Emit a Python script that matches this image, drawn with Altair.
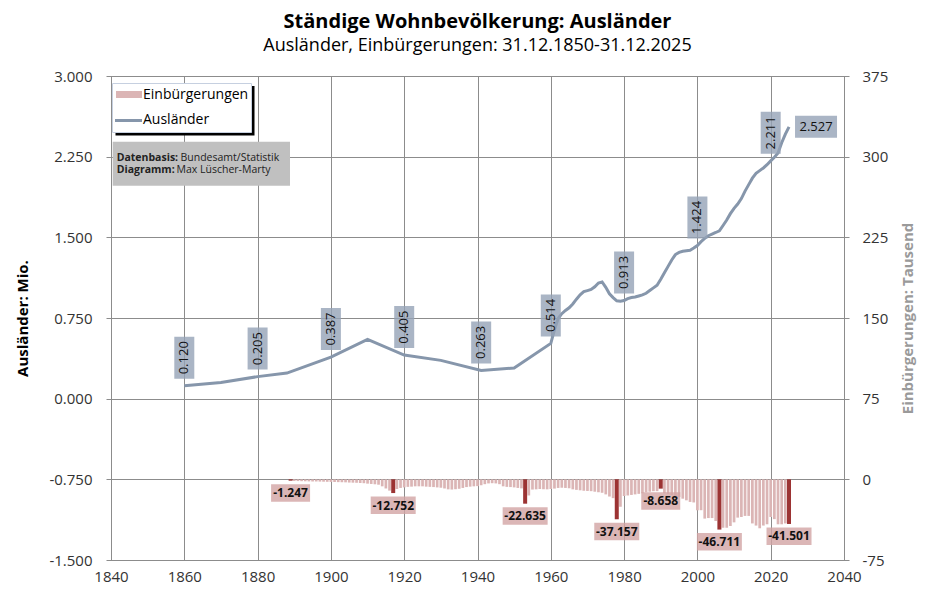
import altair as alt
import pandas as pd

FONT = "Open Sans"

# Ständige ausländische Wohnbevölkerung, Mio.
aus_years = [1860, 1870, 1880, 1888, 1900, 1910, 1920, 1930, 1941, 1950] + list(range(1960, 2026))
aus_values = [
    0.120, 0.150, 0.205, 0.238, 0.387, 0.552, 0.405, 0.356, 0.263, 0.285,
    0.514, 0.640, 0.745, 0.790, 0.820, 0.845, 0.880, 0.925, 0.965, 0.995,
    1.005, 1.015, 1.040, 1.075, 1.085, 1.035, 0.975, 0.940, 0.910, 0.905,
    0.913, 0.930, 0.940, 0.945, 0.955, 0.965, 0.980, 1.005, 1.030, 1.055,
    1.110, 1.170, 1.230, 1.290, 1.340, 1.360, 1.370, 1.375, 1.380, 1.400,
    1.424, 1.460, 1.490, 1.515, 1.530, 1.545, 1.561, 1.610, 1.661, 1.720,
    1.770, 1.810, 1.860, 1.930, 1.990, 2.050, 2.095, 2.120, 2.145, 2.175,
    2.211, 2.245, 2.285, 2.380, 2.460, 2.527,
]

# beschriftete Werte der Ausländer-Linie
mark_years = [1860, 1880, 1900, 1920, 1941, 1960, 1980, 2000, 2020]
mark_values = [0.120, 0.205, 0.387, 0.405, 0.263, 0.514, 0.913, 1.424, 2.211]

# Einbürgerungen, Tausend (negativ dargestellt)
einb_years = list(range(1889, 2026))
einb_values = [
    -1.247,
    -1.5, -1.6, -1.7, -1.8, -1.9, -2.0, -2.0, -2.1, -2.2, -2.3,
    -2.4, -2.5, -2.6, -2.7, -2.8, -3.0, -3.1, -3.2, -3.4, -3.6,
    -4.0, -4.3, -4.6, -5.0, -6.5, -8.5, -10.5, -12.752, -9.0, -8.0,
    -7.5, -7.0, -6.8, -6.5, -6.5, -6.5, -6.8, -7.0, -7.2, -7.5,
    -7.8, -8.5, -9.3, -9.5, -9.2, -8.8, -8.0, -7.2, -6.8, -6.5,
    -6.3, -5.5, -4.5, -3.8, -3.6, -3.8, -4.5, -6.5, -7.0, -7.2,
    -7.5, -8.0, -8.4, -22.635, -15.0, -9.5, -9.3, -9.0, -9.2, -9.3,
    -9.0, -8.6, -8.0, -7.8, -8.0, -8.3, -9.3, -9.8, -10.2, -10.6,
    -10.8, -11.0, -11.5, -12.0, -12.5, -14.0, -16.0, -17.5, -37.157, -25.5,
    -15.5, -15.0, -14.5, -14.0, -13.5, -13.0, -12.0, -11.5, -11.0, -11.0,
    -8.658, -13.0, -13.5, -14.5, -15.5, -16.5, -18.0, -19.5, -21.0, -21.5,
    -28.8, -28.7, -36.5, -36.0, -36.0, -38.7, -46.711, -45.0, -45.0, -43.4,
    -40.0, -35.6, -35.0, -34.0, -34.0, -41.0, -43.0, -45.5, -43.0, -41.8,
    -35.0, -37.0, -41.8, -41.8, -41.0, -41.501,
]
hl_years = [1889, 1917, 1953, 1978, 1990, 2006, 2025]

legend_labels = ["Einbürgerungen", "Ausländer"]
info_bold = ["Datenbasis:", "Diagramm:"]
info_text = ["Bundesamt/Statistik", "Max Lüscher-Marty"]

LINE_COL = "#8696ab"
BAR_COL = "#dbb5b5"
DARK_COL = "#9c3333"
HYPHEN = "replace(datum.label, '\u2212', '-')"

aus = pd.DataFrame({"Jahr": aus_years, "Mio": aus_values})
marks = pd.DataFrame({"Jahr": mark_years, "Mio": mark_values})
last = aus.tail(1)

einb = pd.DataFrame({"Jahr": einb_years, "Tsd": einb_values})
hell = einb[~einb["Jahr"].isin(hl_years)]
dunkel = einb[einb["Jahr"].isin(hl_years)].copy()
dunkel["n"] = dunkel["Tsd"].map(lambda v: len(f"{v:.3f}"))

one = pd.DataFrame({"k": [0]})

x_enc = alt.X("Jahr:Q",
              scale=alt.Scale(domain=[1840, 2040], nice=False, zero=False),
              axis=alt.Axis(values=list(range(1840, 2041, 20)), format="d",
                            title=None, grid=True, labelPadding=9))
y_mio = alt.Y("Mio:Q",
              scale=alt.Scale(domain=[-1.5, 3.0], nice=False, zero=False),
              axis=alt.Axis(values=[-1.5, -0.75, 0, 0.75, 1.5, 2.25, 3.0],
                            format=".3f", labelExpr=HYPHEN,
                            title="Ausländer: Mio.", orient="left",
                            grid=True, labelPadding=14, titlePadding=18))
y_tsd = alt.Y("Tsd:Q",
              scale=alt.Scale(domain=[-75, 375], nice=False),
              axis=alt.Axis(values=[-75, 0, 75, 150, 225, 300, 375], labelExpr=HYPHEN,
                            title="Einbürgerungen: Tausend", orient="right",
                            grid=False, titleColor="#9a9a9a", titleAngle=270,
                            labelPadding=13, titlePadding=28))

# --- Einbürgerungen ---
bars = alt.Chart(hell).mark_bar(width=2.7, color=BAR_COL).encode(x=x_enc, y=y_tsd)
bars_hl = alt.Chart(dunkel).mark_bar(width=4, color=DARK_COL).encode(x=x_enc, y=y_tsd)
box6 = "M-0.39,0.07H0.39V0.42H-0.39Z"
box7 = "M-0.45,0.07H0.45V0.42H-0.45Z"
bar_box = alt.Chart(dunkel).mark_point(size=10000, filled=True, opacity=0.8,
                                       strokeWidth=0, color="#d2a4a4").encode(
    x=x_enc, y=y_tsd,
    shape=alt.Shape("n:N", scale=alt.Scale(domain=[6, 7], range=[box6, box7]), legend=None))
bar_txt = alt.Chart(dunkel).transform_calculate(
    lbl="replace(format(datum.Tsd, '.3f'), '\u2212', '-')"
).mark_text(dy=12.5, fontSize=12, fontWeight="bold", color="#111", font=FONT).encode(
    x=x_enc, y=y_tsd, text="lbl:N")
bar_layer = alt.layer(bars, bars_hl, bar_box, bar_txt)

# --- Ausländer ---
line = alt.Chart(aus).mark_line(color=LINE_COL, strokeWidth=3).encode(x=x_enc, y=y_mio)
lab_box = alt.Chart(marks).mark_point(shape="M-0.2,-0.14H0.2V-0.98H-0.2Z", size=10000,
                                      filled=True, opacity=0.8, strokeWidth=0,
                                      color="#95a2b6").encode(x=x_enc, y=y_mio)
lab_txt = alt.Chart(marks).mark_text(angle=270, dx=28, align="center", baseline="middle",
                                     fontSize=13, color="#111", font=FONT).encode(
    x=x_enc, y=y_mio, text=alt.Text("Mio:Q", format=".3f"))
end_box = alt.Chart(last).mark_point(shape="M0.12,-0.22H0.96V0.22H0.12Z", size=10000,
                                     filled=True, opacity=0.8, strokeWidth=0,
                                     color="#95a2b6").encode(x=x_enc, y=y_mio)
end_txt = alt.Chart(last).mark_text(dx=27, align="center", baseline="middle",
                                    fontSize=13, color="#111", font=FONT).encode(
    x=x_enc, y=y_mio, text=alt.Text("Mio:Q", format=".3f"))

# Legende und Quellenbox
base = alt.Chart(one)
leg_shadow = base.mark_rect(color="black").encode(
    x=alt.value(9.5), x2=alt.value(148.5), y=alt.value(10), y2=alt.value(59.5))
leg_frame = base.mark_rect(fill="white", stroke="#c6d0e0", strokeWidth=1).encode(
    x=alt.value(6.5), x2=alt.value(145.5), y=alt.value(7.5), y2=alt.value(56.5))
leg_sw1 = base.mark_rect(color=BAR_COL).encode(
    x=alt.value(10), x2=alt.value(36), y=alt.value(15), y2=alt.value(22))
leg_sw2 = base.mark_rule(color=LINE_COL, strokeWidth=3).encode(
    x=alt.value(9), x2=alt.value(36), y=alt.value(44.5))
leg_t1 = base.mark_text(align="left", baseline="middle", fontSize=14, font=FONT).encode(
    x=alt.value(37), y=alt.value(18.5), text=alt.value(legend_labels[0]))
leg_t2 = base.mark_text(align="left", baseline="middle", fontSize=14, font=FONT).encode(
    x=alt.value(37), y=alt.value(44), text=alt.value(legend_labels[1]))

info_box = base.mark_rect(color="#c0c0c0").encode(
    x=alt.value(6.7), x2=alt.value(184), y=alt.value(65.7), y2=alt.value(109.7))
info_layers = []
for i, (yy, xn) in enumerate([(81.5, 74.5), (94, 70.5)]):
    info_layers.append(base.mark_text(align="left", baseline="middle", fontSize=10.5,
                                      fontWeight="bold", color="#222", font=FONT).encode(
        x=alt.value(10.7), y=alt.value(yy), text=alt.value(info_bold[i])))
    info_layers.append(base.mark_text(align="left", baseline="middle", fontSize=10.5,
                                      color="#222", font=FONT).encode(
        x=alt.value(xn), y=alt.value(yy), text=alt.value(info_text[i])))

line_layer = alt.layer(line, lab_box, lab_txt, end_box, end_txt,
                       leg_shadow, leg_frame, leg_sw1, leg_sw2, leg_t1, leg_t2,
                       info_box, *info_layers)

chart = alt.layer(bar_layer, line_layer).resolve_scale(y="independent").properties(
    width=743, height=484,
    autosize=alt.AutoSizeParams(type="none"),
    padding={"left": 98, "top": 68, "right": 75, "bottom": 30},
    background="white",
    title=alt.TitleParams(
        text="Ständige Wohnbevölkerung: Ausländer",
        subtitle="Ausländer, Einbürgerungen: 31.12.1850-31.12.2025",
        font=FONT, fontSize=20, fontWeight="bold", color="black",
        subtitleFont=FONT, subtitleFontSize=18, subtitleColor="black",
        subtitlePadding=5, anchor="middle", offset=14),
).configure_view(stroke=None).configure_axis(
    labelFont=FONT, titleFont=FONT, labelFontSize=15, labelColor="#333",
    titleFontSize=15, titleColor="black", titleFontWeight="bold",
    gridColor="#8c8c8c", gridWidth=1, gridOpacity=1, domain=False, ticks=False,
)

chart.save("out.html", embed_options={"renderer": "svg", "actions": False})
